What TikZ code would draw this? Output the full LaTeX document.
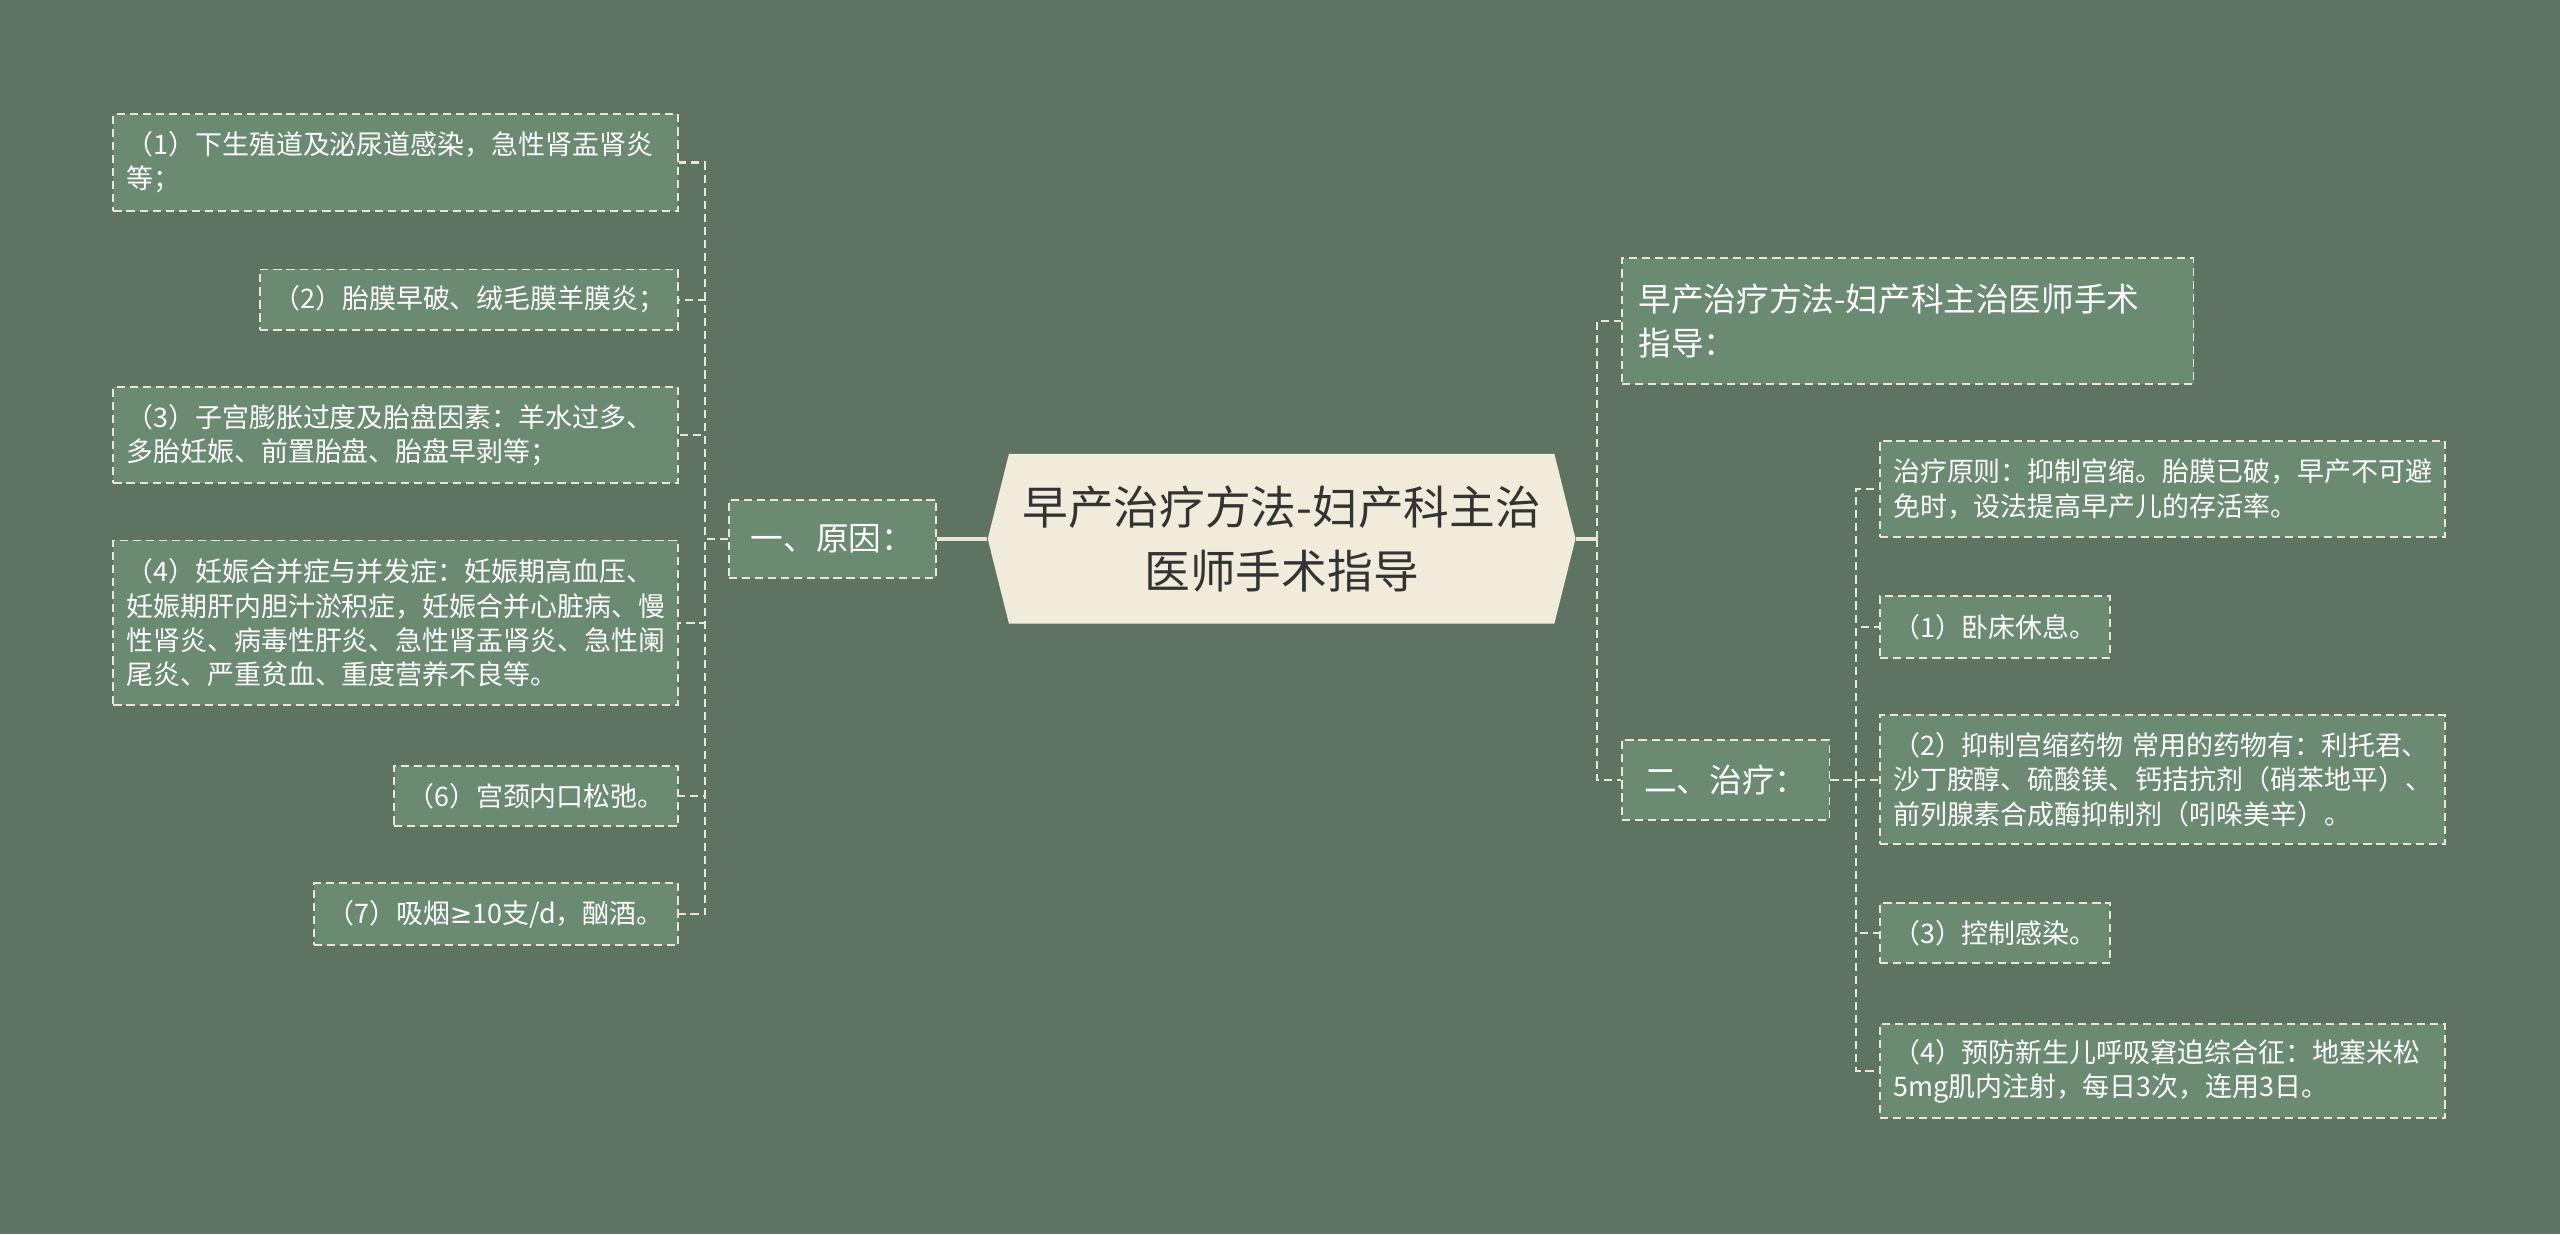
\documentclass[tikz,border=0pt]{standalone}
\usepackage{fontspec}
\setmainfont{Noto Sans CJK SC}
\newfontfamily\geqfont{DejaVu Sans}
\usetikzlibrary{shapes.symbols}
\definecolor{bgcol}{HTML}{5F7362}
\definecolor{boxcol}{HTML}{6B8A72}
\definecolor{linecol}{HTML}{EAE6D5}
\definecolor{rootcol}{HTML}{F0EBDB}
\definecolor{rootfg}{HTML}{333333}
\exhyphenpenalty=10000

\begin{document}
\begin{tikzpicture}[x=1pt,y=-1pt,
    leaf/.style={draw=linecol, dash pattern=on 5pt off 3pt, line width=1.1pt,
      fill=boxcol, text=white, font=\fontsize{16.5}{21}\selectfont,
      align=left, inner xsep=8pt, inner ysep=0pt},
    mid/.style={leaf, font=\fontsize{20}{27}\selectfont, inner xsep=10pt},
    root/.style={shape=signal, signal to=west and east, signal pointer angle=152,
      fill=rootcol, text=rootfg, font=\fontsize{28}{39}\selectfont,
      align=center, minimum width=360pt, minimum height=104pt, inner sep=0pt},
    link/.style={draw=linecol, dash pattern=on 5pt off 3pt, line width=1.3pt},
    trunk/.style={draw=linecol, line width=2.4pt}]
  \useasboundingbox (0,0) rectangle (1568,756);
  \fill[bgcol] (0,0) rectangle (1568,756);

  \node[root] (root) at (785,330) {早产治疗方法-妇产科主治\\医师手术指导};

  % causes
  \node[mid, anchor=east, minimum width=127pt, minimum height=48pt] (cause) at (574,330) {一、原因：};
  \node[leaf, anchor=east, text width=330pt, minimum height=59pt] (c1) at (416,99.5)
    {（1）下生殖道及泌尿道感染，急性肾盂肾炎\\等；};
  \node[leaf, anchor=east, text width=240pt, minimum height=37pt] (c2) at (416,183.5)
    {（2）胎膜早破、绒毛膜羊膜炎；};
  \node[leaf, anchor=east, text width=330pt, minimum height=59pt] (c3) at (416,266.5)
    {（3）子宫膨胀过度及胎盘因素：羊水过多、\\多胎妊娠、前置胎盘、胎盘早剥等；};
  \node[leaf, anchor=east, text width=330pt, minimum height=101pt] (c4) at (416,381.5)
    {（4）妊娠合并症与并发症：妊娠期高血压、\\妊娠期肝内胆汁淤积症，妊娠合并心脏病、慢\\性肾炎、病毒性肝炎、急性肾盂肾炎、急性阑\\尾炎、严重贫血、重度营养不良等。};
  \node[leaf, anchor=east, text width=158pt, minimum height=37pt] (c6) at (416,487.5)
    {（6）宫颈内口松弛。};
  \node[leaf, anchor=east, text width=207pt, minimum height=38pt] (c7) at (416,560)
    {（7）吸烟{\geqfont ≥}10支/d，酗酒。};

  % treatment
  \node[mid, anchor=west, text width=330pt, minimum height=77pt] (guide) at (993,196.5)
    {早产治疗方法-妇产科主治医师手术\\指导：};
  \node[mid, anchor=west, minimum width=127pt, minimum height=49pt] (treat) at (993,477.5) {二、治疗：};
  \node[leaf, anchor=west, text width=330pt, minimum height=59pt] (t0) at (1151,299.5)
    {治疗原则：抑制宫缩。胎膜已破，早产不可避\\免时，设法提高早产儿的存活率。};
  \node[leaf, anchor=west, text width=125pt, minimum height=38pt] (t1) at (1151,384)
    {（1）卧床休息。};
  \node[leaf, anchor=west, text width=330pt, minimum height=79pt] (t2) at (1151,477.5)
    {（2）抑制宫缩药物 常用的药物有：利托君、\\沙丁胺醇、硫酸镁、钙拮抗剂（硝苯地平）、\\前列腺素合成酶抑制剂（吲哚美辛）。};
  \node[leaf, anchor=west, text width=125pt, minimum height=37pt] (t3) at (1151,571.5)
    {（3）控制感染。};
  \node[leaf, anchor=west, text width=330pt, minimum height=58pt] (t4) at (1151,656)
    {（4）预防新生儿呼吸窘迫综合征：地塞米松\\5mg肌内注射，每日3次，连用3日。};

  \coordinate (lbus) at (432,330);
  \coordinate (rbus) at (978,330);
  \coordinate (tbus) at (1137,477.5);

  \draw[trunk] (root.west) -- (cause.east);
  \foreach \n in {c1,c2,c3,c4,c6,c7}
    \draw[link] (cause.west) -- (lbus) |- (\n.east);
  \draw[trunk] (root.east) -- (rbus);
  \foreach \n in {guide,treat}
    \draw[link] (rbus) |- (\n.west);
  \foreach \n in {t0,t1,t2,t3,t4}
    \draw[link] (treat.east) -- (tbus) |- (\n.west);
\end{tikzpicture}
\end{document}
